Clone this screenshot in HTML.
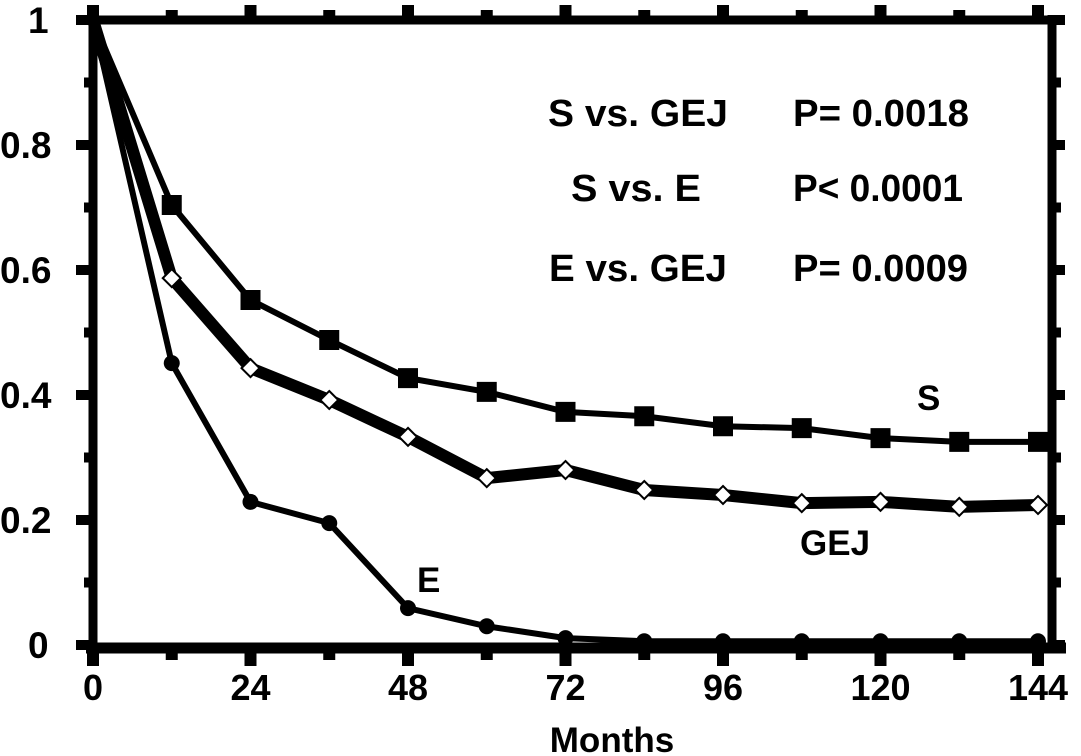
<!DOCTYPE html>
<html><head><meta charset="utf-8"><style>
html,body{margin:0;padding:0;background:#fff;}
svg{display:block;font-family:"Liberation Sans",Arial,sans-serif;font-weight:bold;}
</style></head><body>
<svg id="chart" width="1081" height="756" viewBox="0 0 1081 756">
<g id="frame"></g>
<g id="ticks"></g>
<g id="lines"></g>
<g id="marks"></g>
<g id="labels"></g>
<text x="612" y="752" font-size="35" text-anchor="middle">Months</text>
<text x="548" y="126" font-size="38" textLength="180" lengthAdjust="spacingAndGlyphs">S vs. GEJ</text>
<text x="793" y="126" font-size="38" textLength="176" lengthAdjust="spacingAndGlyphs">P= 0.0018</text>
<text x="571" y="201" font-size="38" textLength="130" lengthAdjust="spacingAndGlyphs">S vs. E</text>
<text x="793" y="201" font-size="38" textLength="170" lengthAdjust="spacingAndGlyphs">P&lt; 0.0001</text>
<text x="549" y="281" font-size="38" textLength="178" lengthAdjust="spacingAndGlyphs">E vs. GEJ</text>
<text x="793" y="281" font-size="38" textLength="175" lengthAdjust="spacingAndGlyphs">P= 0.0009</text>
<text x="917" y="410" font-size="35">S</text>
<text x="800" y="555" font-size="35">GEJ</text>
<text x="417" y="592" font-size="35">E</text>
</svg>
<script>
const months = [0,12,24,36,48,60,72,84,96,108,120,132,144];
const sValues = [1,0.704,0.552,0.488,0.427,0.405,0.373,0.366,0.350,0.347,0.331,0.325,0.325];
const gejValues = [1,0.587,0.443,0.392,0.333,0.267,0.280,0.248,0.240,0.227,0.229,0.221,0.224];
const eValues = [1,0.451,0.229,0.195,0.059,0.030,0.011,0.006,0.006,0.006,0.006,0.006,0.006];
const xTickLabels = ["0","24","48","72","96","120","144"];
const yTickLabels = ["0","0.2","0.4","0.6","0.8","1"];

const NS="http://www.w3.org/2000/svg";
const x = m => 93 + (m/144)*945;
const y = v => 645 - v*625;
function mk(tag, attrs, parent){const e=document.createElementNS(NS,tag);for(const k in attrs)e.setAttribute(k,attrs[k]);document.getElementById(parent).appendChild(e);return e;}

let f;
f=mk('line',{x1:93,y1:20,x2:1052,y2:20,stroke:'#000','stroke-width':9},'frame');


f=mk('line',{x1:93,y1:15,x2:93,y2:660,stroke:'#000','stroke-width':9},'frame');


f=mk('line',{x1:1052,y1:15,x2:1052,y2:652,stroke:'#000','stroke-width':9},'frame');


f=mk('line',{x1:86,y1:648,x2:1066,y2:648,stroke:'#000','stroke-width':11},'frame');



for(let m=0;m<=144;m+=12){
  const major = m%24===0;
  let t=mk('rect',{x:x(m)-6,y:648,width:12,height:major?18:12,fill:'#000'},'ticks');
  
  
  t=mk('rect',{x:x(m)-6,y:major?5:10,width:12,height:major?12:8,fill:'#000'},'ticks');
  
  
}
for(let i=0;i<=10;i++){
  const v=i/10, major=i%2===0;
  let t=mk('rect',{x:major?76:84,y:y(v)-5,width:major?14:8,height:10,fill:'#000'},'ticks');
  
  
  t=mk('rect',{x:1055,y:y(v)-5,width:major?10:6,height:10,fill:'#000'},'ticks');
  
  
}
xTickLabels.forEach(l=>{
  const t=mk('text',{x:x(+l),y:700,'font-size':36,'text-anchor':'middle'},'labels');
  t.textContent=l;
  
  
});
yTickLabels.forEach(l=>{
  const t=mk('text',{x:(l==="1"||l==="0")?28:0,y:y(+l)+13,'font-size':37,'text-anchor':'start'},'labels');
  t.textContent=l;
  
  
});

function series(vals,name,w){
  const p=mk('polyline',{points:months.map((m,i)=>x(m)+','+y(vals[i])).join(' '),fill:'none',stroke:'#000','stroke-width':w,'stroke-linejoin':'miter'},'lines');
  
  
}
series(sValues,'s',6);
series(gejValues,'gej',12);
series(eValues,'e',6);

months.forEach((m,i)=>{
  if(i===0) return;
  let r=mk('rect',{x:x(m)-10,y:y(sValues[i])-10,width:20,height:20,fill:'#000'},'marks');
  
  
  const cx=x(m), cy=y(gejValues[i]);
  r=mk('polygon',{points:`${cx},${cy-9} ${cx+9},${cy} ${cx},${cy+9} ${cx-9},${cy}`,fill:'#fff',stroke:'#000','stroke-width':2},'marks');
  
  
  r=mk('circle',{cx:x(m),cy:y(eValues[i]),r:8,fill:'#000'},'marks');
  
  
});
</script>
</body></html>
